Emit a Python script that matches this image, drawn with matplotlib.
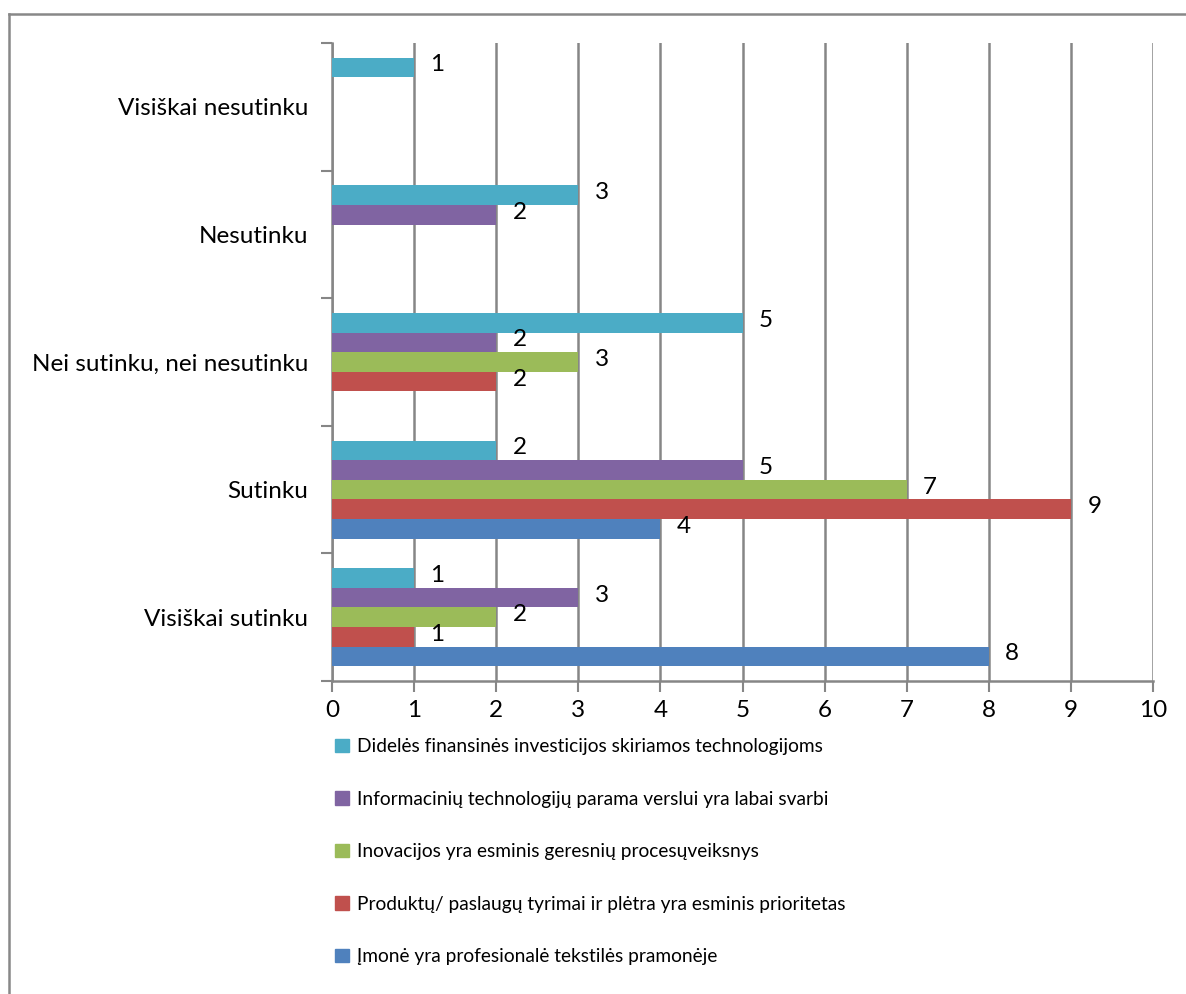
import numpy as np
import matplotlib.pyplot as plt
from matplotlib.lines import Line2D

plt.rcParams['font.family'] = ['Lato', 'DejaVu Sans']

categories = ["Visiškai sutinku", "Sutinku", "Nei sutinku, nei nesutinku",
              "Nesutinku", "Visiškai nesutinku"]
series_names = [
    "Įmonė yra profesionalė tekstilės pramonėje",
    "Produktų/ paslaugų tyrimai ir plėtra yra esminis prioritetas",
    "Inovacijos yra esminis geresnių procesųveiksnys",
    "Informacinių technologijų parama verslui yra labai svarbi",
    "Didelės finansinės investicijos skiriamos technologijoms",
]
imone = [8, 4, None, None, None]
produktu = [1, 9, 2, None, None]
inovacijos = [2, 7, 3, None, None]
informaciniu = [3, 5, 2, 2, None]
dideles = [1, 2, 5, 3, 1]
series_values = [imone, produktu, inovacijos, informaciniu, dideles]
colors = ["#4F81BD", "#C0504D", "#9BBB59", "#8064A2", "#4BACC6"]
x_ticks = list(range(0, 11))

fig = plt.figure(figsize=(11.86, 9.94), dpi=100)
ax = fig.add_axes([332 / 1186, 1 - 681 / 994, (1153 - 332) / 1186, (681 - 43) / 994])

h = 1 / 6.5
y = np.arange(len(categories))
handles = []
for i, (vals, col, name) in enumerate(zip(series_values, colors, series_names)):
    pos = y - 2 * h + i * h
    for p, v in zip(pos, vals):
        if v is None:
            continue
        ax.barh(p, v, height=h, color=col, zorder=3)
        ax.text(v + 0.2, p + 0.02, str(v), va='center', ha='left', fontsize=17.5,
                color='black', zorder=4)
    handles.append(plt.Rectangle((0, 0), 1, 1, color=col, label=name))

ax.set_xlim(0, 10)
ax.set_ylim(-0.5, len(categories) - 0.5)
ax.set_xticks(x_ticks)
ax.set_xticklabels([str(t) for t in x_ticks], fontsize=17.5)
ax.set_yticks(np.arange(-0.5, len(categories)), labels=[])
ax.set_yticks(y, minor=True)
ax.set_yticklabels(categories, minor=True, fontsize=17.5)
ax.tick_params(axis='y', which='minor', length=0, pad=17)
ax.tick_params(axis='y', which='major', length=8, width=1.5, color='#868686')
ax.tick_params(axis='x', length=8, width=1.5, color='#868686', pad=6)

ax.grid(axis='x', color='#868686', linewidth=1.8, zorder=1)
ax.set_axisbelow(True)
for s in ['top', 'right']:
    ax.spines[s].set_visible(False)
for s in ['left', 'bottom']:
    ax.spines[s].set_color('#868686')
    ax.spines[s].set_linewidth(1.8)

leg = fig.legend(handles=handles[::-1], loc='upper left',
                 bbox_to_anchor=(318 / 1186, 1 - 721 / 994), frameon=False,
                 fontsize=13.8, handlelength=0.72, handleheight=0.72,
                 handletextpad=0.4, labelspacing=1.85)

# outer chart border (top and left edges)
fig.add_artist(Line2D([9 / 1186, 1], [1 - 14 / 994, 1 - 14 / 994], color='#888888', linewidth=1.8))
fig.add_artist(Line2D([9 / 1186, 9 / 1186], [0, 1 - 14 / 994], color='#888888', linewidth=1.8))

fig.savefig("out.png", dpi=100)
